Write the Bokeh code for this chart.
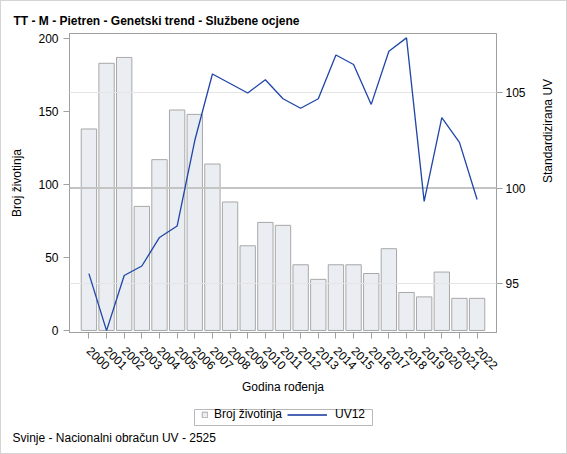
from math import pi
from bokeh.plotting import figure
from bokeh.layouts import column
from bokeh.models import (FactorRange, Range1d, LinearAxis, FixedTicker, Grid, Span,
                          Legend, LegendItem, Title, BoxAnnotation)
from bokeh.embed import file_html
from bokeh.resources import INLINE

# data
years = ["2000", "2001", "2002", "2003", "2004", "2005", "2006", "2007", "2008", "2009",
         "2010", "2011", "2012", "2013", "2014", "2015", "2016", "2017", "2018", "2019",
         "2020", "2021", "2022"]
broj = [138, 183, 187, 85, 117, 151, 148, 114, 88, 58, 74, 72,
        45, 35, 45, 45, 39, 56, 26, 23, 40, 22, 22]
uv12 = [95.5, 92.5, 95.4, 95.9, 97.4, 98.0, 102.5, 106.0, 105.5, 105.0, 105.7, 104.7,
        104.2, 104.7, 107.0, 106.5, 104.4, 107.2, 107.9, 99.3, 103.7, 102.4, 99.4]
left_ticks = [0, 50, 100, 150, 200]
right_ticks = [95, 100, 105]

FONT = "Liberation Sans"
GRAY = "#a0a0a0"
BAR_FILL = "#eaedf2"
BAR_LINE = "#a8a8a8"
LINE_COLOR = "#1f45a8"

p = figure(width=567, height=400,
           x_range=FactorRange(factors=years, range_padding=0.6, range_padding_units="absolute"),
           y_range=Range1d(-1.4, 203.4),
           output_backend="svg", toolbar_location=None,
           min_border_left=69, min_border_right=71, min_border_top=33, min_border_bottom=68)
p.extra_y_ranges = {"uv": Range1d(92.4, 108.13)}
p.outline_line_color = GRAY
p.border_fill_color = None
p.xgrid.visible = False
p.ygrid.visible = False

# left axis
ax = p.left[0]
ax.ticker = FixedTicker(ticks=left_ticks)
ax.axis_label = "Broj životinja"

# right axis
rax = LinearAxis(y_range_name="uv", ticker=FixedTicker(ticks=right_ticks),
                 axis_label="Standardizirana UV")
p.add_layout(rax, "right")
if "axis_label_orientation" in rax.properties():
    rax.axis_label_orientation = pi / 2

bx = p.below[0]
bx.axis_label = "Godina rođenja"
bx.major_label_orientation = -pi / 4

for a in [ax, rax, bx]:
    a.axis_line_color = GRAY
    a.major_tick_line_color = GRAY
    a.major_tick_out = 6
    a.major_tick_in = 0
    a.minor_tick_line_color = None
    a.major_label_text_font = FONT
    a.major_label_text_font_size = "12px"
    a.major_label_text_color = "#000000"
    a.axis_label_text_font = FONT
    a.axis_label_text_font_size = "12px"
    a.axis_label_text_font_style = "normal"
    a.axis_label_text_color = "#000000"
ax.major_label_standoff = 5
ax.axis_label_standoff = 11
rax.major_label_standoff = 3
rax.axis_label_standoff = 19
bx.major_label_standoff = 10
bx.axis_label_standoff = 3

# faint grid lines at 95 and 105, reference line at 100
p.add_layout(Grid(dimension=1, y_range_name="uv", ticker=FixedTicker(ticks=[95, 105]),
                  grid_line_color="#e4e4e4", level="annotation"))
p.add_layout(Span(location=100, dimension="width", y_range_name="uv",
                  line_color="#c4c4c4", line_width=2))

p.vbar(x=years, top=broj, bottom=0, width=0.87,
       fill_color=BAR_FILL, line_color=BAR_LINE, line_width=1)
p.line(x=years, y=uv12, y_range_name="uv", line_color=LINE_COLOR,
       line_width=1.3, level="overlay")

p.add_layout(Title(text="TT - M - Pietren - Genetski trend - Službene ocjene", align="left",
                   offset=-56, standoff=12, text_font=FONT, text_font_size="12px",
                   text_font_style="bold", text_color="#000000"), "above")

# strip below the chart: legend and footer
# (its frame lines up with the chart frame: x in page pixels 69..496, y 0..28 from the bottom)
f = figure(width=567, height=54, x_range=Range1d(69, 496), y_range=Range1d(0, 28),
           output_backend="svg", toolbar_location=None,
           x_axis_location=None, y_axis_location=None,
           min_border_left=69, min_border_right=71, min_border_top=0, min_border_bottom=26)
f.grid.visible = False
f.outline_line_color = None
f.border_fill_color = None

nan = float("nan")
sq = f.quad(left=[nan], right=[nan], top=[nan], bottom=[nan],
            fill_color=BAR_FILL, line_color=BAR_LINE)
ln = f.line(x=[nan], y=[nan], line_color="#12329a", line_width=1.3)

f.add_layout(BoxAnnotation(left=194, right=372, bottom=3, top=19, level="overlay",
                           fill_color="#ffffff", fill_alpha=0,
                           line_color="#b8b8b8", line_alpha=1, line_width=1))
leg_kw = dict(orientation="horizontal", border_line_color=None, background_fill_alpha=0,
              label_text_font=FONT, label_text_font_size="12px", label_text_color="#000000",
              padding=0, margin=0, spacing=0)
f.add_layout(Legend(items=[LegendItem(label="Broj životinja", renderers=[sq])],
                    location=(132, 7), glyph_width=7, glyph_height=7, label_height=7,
                    label_standoff=6, **leg_kw))
f.add_layout(Legend(items=[LegendItem(label="UV12", renderers=[ln])],
                    location=(218, 7), glyph_width=40, glyph_height=7, label_height=7,
                    label_standoff=8, **leg_kw))
f.add_layout(Title(text="Svinje - Nacionalni obračun UV - 2525", align="left",
                   offset=-57, standoff=0, text_font=FONT, text_font_size="12px",
                   text_font_style="normal", text_color="#000000"), "below")

layout = column(p, f, spacing=0,
                styles={"background-color": "#ffffff",
                        "box-shadow": "inset 0 0 0 1px #d4d4d4"})
open("out.html", "w").write(file_html(layout, INLINE))
